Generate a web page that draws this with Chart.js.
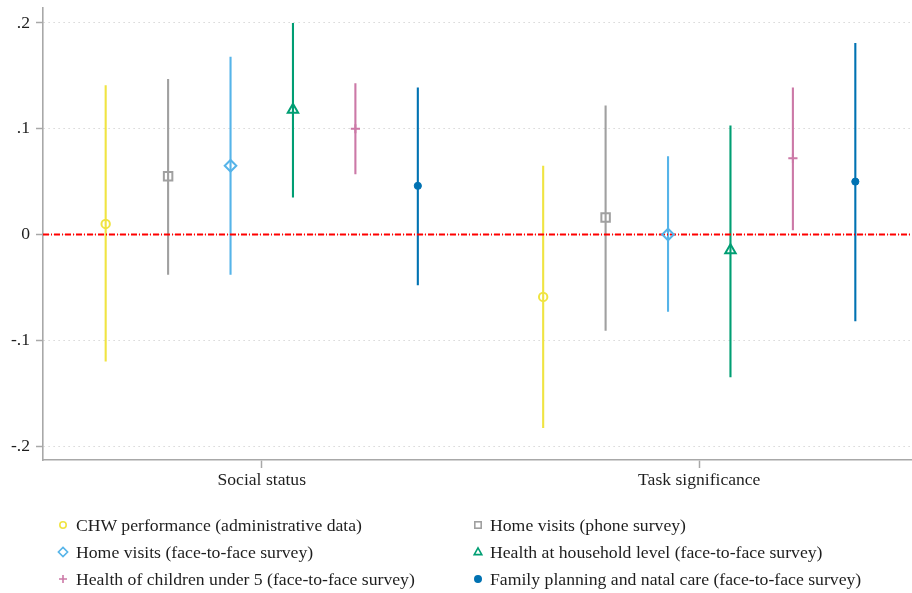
<!DOCTYPE html>
<html>
<head>
<meta charset="utf-8">
<script src="https://cdn.jsdelivr.net/npm/chart.js@4/dist/chart.umd.min.js"></script>
<style>
  html, body { margin: 0; padding: 0; background: #fff; }
  #wrap { position: relative; width: 912px; height: 593px; overflow: hidden; }
  #c { position: absolute; left: 0; top: 0; }
  .lg-text { position: absolute; font-family: 'Liberation Serif', 'Times New Roman', serif; font-size: 17.7px; line-height: 20px; color: #1e1e1e; white-space: nowrap; }
  .lg-mark { position: absolute; }
</style>
</head>
<body>
<div id="wrap">
  <canvas id="c" width="919" height="593"></canvas>
</div>
<script>
// Outcome groups on the x axis
const categories = ['Social status', 'Task significance'];

// Outcome series
const seriesNames = [
  'CHW performance (administrative data)',
  'Home visits (phone survey)',
  'Home visits (face-to-face survey)',
  'Health at household level (face-to-face survey)',
  'Health of children under 5 (face-to-face survey)',
  'Family planning and natal care (face-to-face survey)'
];

// Point estimates, one value per group
const chwPerfEst   = [0.010, -0.059];
const visitsPhoneEst = [0.055, 0.016];
const visitsF2FEst = [0.065, 0.000];
const householdEst = [0.118, -0.015];
const childrenEst  = [0.100, 0.072];
const familyEst    = [0.046, 0.050];

// Lower confidence bounds
const chwPerfLo   = [-0.120, -0.183];
const visitsPhoneLo = [-0.038, -0.091];
const visitsF2FLo = [-0.038, -0.073];
const householdLo = [0.035, -0.135];
const childrenLo  = [0.057, 0.004];
const familyLo    = [-0.048, -0.082];

// Upper confidence bounds
const chwPerfHi   = [0.141, 0.065];
const visitsPhoneHi = [0.147, 0.122];
const visitsF2FHi = [0.168, 0.074];
const householdHi = [0.200, 0.103];
const childrenHi  = [0.143, 0.139];
const familyHi    = [0.139, 0.181];

// Y axis ticks
const yTickValues = [-0.2, -0.1, 0, 0.1, 0.2];

const estimates = [chwPerfEst, visitsPhoneEst, visitsF2FEst, householdEst, childrenEst, familyEst];
const lowers = [chwPerfLo, visitsPhoneLo, visitsF2FLo, householdLo, childrenLo, familyLo];
const uppers = [chwPerfHi, visitsPhoneHi, visitsF2FHi, householdHi, childrenHi, familyHi];

const colors = ['#F0E442', '#A0A0A0', '#56B4E9', '#009E73', '#CC79A7', '#0072B2'];
const markers = [
  { style: 'circle',   radius: 4.2, fill: 'rgba(0,0,0,0)', width: 2 },
  { style: 'rect',     radius: 6.0, fill: 'rgba(0,0,0,0)', width: 2 },
  { style: 'rectRot',  radius: 5.8, fill: 'rgba(0,0,0,0)', width: 2 },
  { style: 'triangle', radius: 6.0, fill: 'rgba(0,0,0,0)', width: 2 },
  { style: 'cross',    radius: 4.6, fill: 'rgba(0,0,0,0)', width: 2 },
  { style: 'circle',   radius: 3.6, fill: '#0072B2',       width: 1 }
];

const spacing = 0.1427;
const xPos = (g, i) => (g + 1) + (i - 2.5) * spacing;

const datasets = [];

// Zero reference line
datasets.push({
  type: 'line',
  data: [{ x: 0.5, y: 0 }, { x: 2.49, y: 0 }],
  borderColor: '#ff0000',
  borderWidth: 1.8,
  borderDash: [6, 2, 1, 2],
  pointRadius: 0,
  order: 2
});

seriesNames.forEach((name, i) => {
  // Confidence intervals
  const ci = [];
  categories.forEach((c, g) => {
    ci.push({ x: xPos(g, i), y: lowers[i][g] });
    ci.push({ x: xPos(g, i), y: uppers[i][g] });
    ci.push({ x: xPos(g, i), y: null });
  });
  datasets.push({
    type: 'line',
    data: ci,
    borderColor: colors[i],
    borderWidth: 2.1,
    pointRadius: 0,
    spanGaps: false,
    order: 3
  });
  // Point estimates
  datasets.push({
    type: 'scatter',
    label: name,
    data: categories.map((c, g) => ({ x: xPos(g, i), y: estimates[i][g] })),
    pointStyle: markers[i].style,
    pointRadius: markers[i].radius,
    pointBorderWidth: markers[i].width,
    pointBorderColor: colors[i],
    pointBackgroundColor: markers[i].fill,
    order: 1
  });
});

Chart.defaults.font.family = "'Liberation Serif', 'Times New Roman', serif";
Chart.defaults.font.size = 17.6;
Chart.defaults.color = '#1e1e1e';

new Chart(document.getElementById('c'), {
  type: 'scatter',
  data: { datasets },
  options: {
    responsive: false,
    animation: false,
    layout: { padding: { top: 7, right: 0, bottom: 0, left: 0 } },
    plugins: { legend: { display: false }, tooltip: { enabled: false } },
    scales: {
      x: {
        type: 'linear',
        min: 0.5,
        max: 2.484,
        afterBuildTicks: s => { s.ticks = categories.map((c, g) => ({ value: g + 1 })); },
        afterFit: s => { s.height = 133; s.paddingLeft = 0; s.paddingRight = 0; },
        ticks: {
          callback: v => categories[Math.round(v) - 1],
          padding: 2,
          maxRotation: 0,
          autoSkip: false
        },
        grid: { drawOnChartArea: false, drawTicks: true, tickLength: 8, tickColor: '#a8a8a8', tickWidth: 1.5 },
        border: { color: '#a8a8a8', width: 1.6 }
      },
      y: {
        type: 'linear',
        min: -0.2132,
        max: 0.21415,
        afterBuildTicks: s => { s.ticks = yTickValues.map(v => ({ value: v })); },
        afterFit: s => { s.width = 43; s.paddingTop = 0; s.paddingBottom = 0; },
        ticks: {
          callback: v => {
            if (Math.abs(v) < 1e-9) return '0';
            const t = v.toFixed(1);
            return t.replace('0.', '.');
          },
          padding: 6
        },
        grid: { color: '#c4c4c4', lineWidth: 1, tickLength: 7, tickColor: '#a8a8a8', tickWidth: 1.5, tickBorderDash: [] },
        border: { color: '#a8a8a8', width: 1.6, dash: [1, 4] }
      }
    }
  }
});

// Legend below the plot, two columns
const wrap = document.getElementById('wrap');
const legendCols = [{ mark: 63, text: 76 }, { mark: 478, text: 490 }];
const legendRows = [525, 552, 578.5];
const svgNS = 'http://www.w3.org/2000/svg';

function legendMarker(i) {
  const svg = document.createElementNS(svgNS, 'svg');
  svg.setAttribute('width', 14);
  svg.setAttribute('height', 14);
  svg.setAttribute('viewBox', '-7 -7 14 14');
  let el;
  const c = colors[i];
  if (i === 0) {
    el = document.createElementNS(svgNS, 'circle');
    el.setAttribute('r', 3.2);
  } else if (i === 1) {
    el = document.createElementNS(svgNS, 'rect');
    el.setAttribute('x', -3.2); el.setAttribute('y', -3.2);
    el.setAttribute('width', 6.4); el.setAttribute('height', 6.4);
  } else if (i === 2) {
    el = document.createElementNS(svgNS, 'polygon');
    el.setAttribute('points', '0,-4.6 4.6,0 0,4.6 -4.6,0');
  } else if (i === 3) {
    el = document.createElementNS(svgNS, 'polygon');
    el.setAttribute('points', '0,-4.2 3.8,2.6 -3.8,2.6');
  } else if (i === 4) {
    el = document.createElementNS(svgNS, 'path');
    el.setAttribute('d', 'M-4,0 H4 M0,-4 V4');
  } else {
    el = document.createElementNS(svgNS, 'circle');
    el.setAttribute('r', 3.2);
  }
  el.setAttribute('stroke', c);
  el.setAttribute('stroke-width', 1.6);
  el.setAttribute('fill', i === 5 ? c : 'none');
  svg.appendChild(el);
  return svg;
}

seriesNames.forEach((name, i) => {
  const col = legendCols[i % 2];
  const cy = legendRows[Math.floor(i / 2)];
  const m = legendMarker(i);
  m.setAttribute('class', 'lg-mark');
  m.style.left = (col.mark - 7) + 'px';
  m.style.top = (cy - 7) + 'px';
  wrap.appendChild(m);
  const t = document.createElement('div');
  t.className = 'lg-text';
  t.textContent = name;
  t.style.left = col.text + 'px';
  t.style.top = (cy - 10) + 'px';
  wrap.appendChild(t);
});
</script>
</body>
</html>
